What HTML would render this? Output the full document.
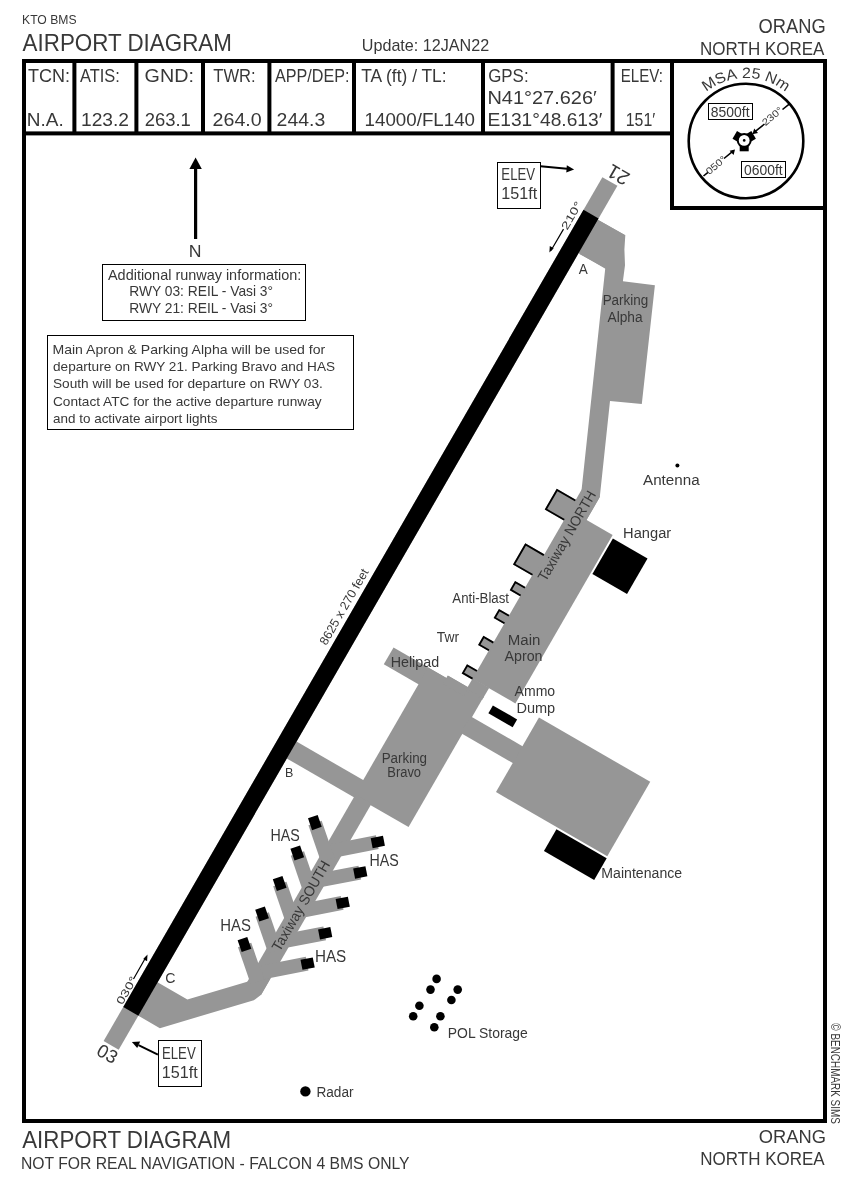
<!DOCTYPE html><html><head><meta charset="utf-8"><style>html,body{margin:0;padding:0;background:#fff;width:850px;height:1181px;overflow:hidden}svg{display:block;will-change:transform}text{font-family:"Liberation Sans",sans-serif}</style></head><body>
<svg xmlns="http://www.w3.org/2000/svg" width="850" height="1181" viewBox="0 0 850 1181">
<rect width="850" height="1181" fill="#fff"/>
<text x="22.03" y="24" font-size="13.62" fill="#383838" textLength="54.55" lengthAdjust="spacingAndGlyphs">KTO BMS</text>
<text x="22.60" y="50.6" font-size="24.64" fill="#383838" textLength="209.27" lengthAdjust="spacingAndGlyphs">AIRPORT DIAGRAM</text>
<text x="361.79" y="50.6" font-size="16.81" fill="#383838" textLength="127.40" lengthAdjust="spacingAndGlyphs">Update: 12JAN22</text>
<text x="758.58" y="33" font-size="19.71" fill="#383838" textLength="67.14" lengthAdjust="spacingAndGlyphs">ORANG</text>
<text x="700.04" y="55.4" font-size="18.84" fill="#383838" textLength="124.38" lengthAdjust="spacingAndGlyphs">NORTH KOREA</text>
<rect x="22" y="59" width="805.00" height="4.00" fill="#000"/>
<rect x="22" y="59" width="4.00" height="1064.00" fill="#000"/>
<rect x="823" y="59" width="4.00" height="1064.00" fill="#000"/>
<rect x="22" y="1119" width="805.00" height="4.00" fill="#000"/>
<rect x="22" y="131.4" width="652.00" height="4.00" fill="#000"/>
<rect x="72.4" y="59" width="4.00" height="76.00" fill="#000"/>
<rect x="134.4" y="59" width="4.00" height="76.00" fill="#000"/>
<rect x="201" y="59" width="4.00" height="76.00" fill="#000"/>
<rect x="267.4" y="59" width="4.00" height="76.00" fill="#000"/>
<rect x="352" y="59" width="4.00" height="76.00" fill="#000"/>
<rect x="481" y="59" width="4.00" height="76.00" fill="#000"/>
<rect x="610.6" y="59" width="4.00" height="76.00" fill="#000"/>
<rect x="670" y="59" width="4.00" height="151.00" fill="#000"/>
<rect x="670" y="206" width="157.00" height="4.00" fill="#000"/>
<text x="28.04" y="81.6" font-size="18.55" fill="#383838" textLength="42.04" lengthAdjust="spacingAndGlyphs">TCN:</text>
<text x="26.88" y="126" font-size="18.55" fill="#383838" textLength="36.92" lengthAdjust="spacingAndGlyphs">N.A.</text>
<text x="80.00" y="81.6" font-size="18.55" fill="#383838" textLength="39.90" lengthAdjust="spacingAndGlyphs">ATIS:</text>
<text x="80.96" y="126" font-size="18.55" fill="#383838" textLength="48.05" lengthAdjust="spacingAndGlyphs">123.2</text>
<text x="144.61" y="81.6" font-size="18.55" fill="#383838" textLength="49.26" lengthAdjust="spacingAndGlyphs">GND:</text>
<text x="144.68" y="126" font-size="18.55" fill="#383838" textLength="46.20" lengthAdjust="spacingAndGlyphs">263.1</text>
<text x="213.27" y="81.6" font-size="18.55" fill="#383838" textLength="42.30" lengthAdjust="spacingAndGlyphs">TWR:</text>
<text x="212.62" y="126" font-size="18.55" fill="#383838" textLength="49.12" lengthAdjust="spacingAndGlyphs">264.0</text>
<text x="275.00" y="81.6" font-size="18.55" fill="#383838" textLength="74.50" lengthAdjust="spacingAndGlyphs">APP/DEP:</text>
<text x="276.63" y="126" font-size="18.55" fill="#383838" textLength="48.60" lengthAdjust="spacingAndGlyphs">244.3</text>
<text x="361.25" y="81.6" font-size="18.55" fill="#383838" textLength="85.37" lengthAdjust="spacingAndGlyphs">TA (ft) / TL:</text>
<text x="364.59" y="126" font-size="18.55" fill="#383838" textLength="110.45" lengthAdjust="spacingAndGlyphs">14000/FL140</text>
<text x="488.15" y="81.6" font-size="18.55" fill="#383838" textLength="40.45" lengthAdjust="spacingAndGlyphs">GPS:</text>
<text x="487.40" y="104" font-size="18.55" fill="#383838" textLength="109.41" lengthAdjust="spacingAndGlyphs">N41°27.626′</text>
<text x="487.46" y="126" font-size="18.55" fill="#383838" textLength="114.86" lengthAdjust="spacingAndGlyphs">E131°48.613′</text>
<text x="620.79" y="81.6" font-size="18.55" fill="#383838" textLength="42.21" lengthAdjust="spacingAndGlyphs">ELEV:</text>
<text x="625.81" y="126" font-size="18.55" fill="#383838" textLength="29.44" lengthAdjust="spacingAndGlyphs">151′</text>
<circle cx="746" cy="141" r="57.3" fill="none" stroke="#000" stroke-width="2.6"/>
<text x="0" y="0" font-size="15.0" fill="#383838" text-anchor="middle" transform="translate(711.63,88.20) rotate(-33.06) scale(1.064,1)">M</text>
<text x="0" y="0" font-size="15.0" fill="#383838" text-anchor="middle" transform="translate(722.22,82.66) rotate(-22.18) scale(1.064,1)">S</text>
<text x="0" y="0" font-size="15.0" fill="#383838" text-anchor="middle" transform="translate(732.36,79.49) rotate(-12.50) scale(1.064,1)">A</text>
<text x="0" y="0" font-size="15.0" fill="#383838" text-anchor="middle" transform="translate(746.44,78.00) rotate(0.40) scale(1.064,1)">2</text>
<text x="0" y="0" font-size="15.0" fill="#383838" text-anchor="middle" transform="translate(755.28,78.69) rotate(8.47) scale(1.064,1)">5</text>
<text x="0" y="0" font-size="15.0" fill="#383838" text-anchor="middle" transform="translate(769.38,82.50) rotate(21.78) scale(1.064,1)">N</text>
<text x="0" y="0" font-size="15.0" fill="#383838" text-anchor="middle" transform="translate(780.37,88.20) rotate(33.06) scale(1.064,1)">m</text>
<rect x="708.5" y="103.5" width="44" height="16" fill="none" stroke="#000" stroke-width="1"/>
<text x="710.87" y="116.5" font-size="13.77" fill="#383838" textLength="38.70" lengthAdjust="spacingAndGlyphs">8500ft</text>
<rect x="741.5" y="161.5" width="44" height="16" fill="none" stroke="#000" stroke-width="1"/>
<text x="744.04" y="174.8" font-size="13.77" fill="#383838" textLength="38.63" lengthAdjust="spacingAndGlyphs">0600ft</text>
<path d="M782.5 109.5 L789.5 103.8 M764.5 124 L755 131.7 M724 158.5 L733 151.2 M703.5 176 L708 172.3" stroke="#000" stroke-width="1.6" fill="none"/>
<path d="M752.4 134.2 L754.2 128.6 L758 132.9 Z M735 149.5 L733.6 155 L729.6 150.8 Z" fill="#000"/>
<text x="-0.56" y="0" font-size="9.86" fill="#383838" textLength="23.22" lengthAdjust="spacingAndGlyphs" transform="translate(766,126) rotate(-40)">230°</text>
<text x="-0.45" y="0" font-size="9.86" fill="#383838" textLength="23.10" lengthAdjust="spacingAndGlyphs" transform="translate(709.5,175) rotate(-40)">050°</text>
<g transform="translate(744.2,140.4)">
<circle r="7.4" fill="#000"/>
<rect x="-4.5" y="5" width="9" height="5.9" fill="#000" transform="rotate(0)"/>
<rect x="-4.5" y="5" width="9" height="5.9" fill="#000" transform="rotate(120)"/>
<rect x="-4.5" y="5" width="9" height="5.9" fill="#000" transform="rotate(240)"/>
<circle r="5.4" fill="#fff"/><circle r="1.3" fill="#000"/></g>
<path d="M195.6 239 L195.6 166" stroke="#000" stroke-width="3.2"/>
<path d="M195.6 157.4 L201.8 169 L189.4 169 Z" fill="#000"/>
<text x="188.69" y="257.3" font-size="16.52" fill="#383838" textLength="12.77" lengthAdjust="spacingAndGlyphs">N</text>
<rect x="102.5" y="264.5" width="203" height="56" fill="none" stroke="#000" stroke-width="1"/>
<text x="108.00" y="280.2" font-size="14.78" fill="#383838" textLength="193.32" lengthAdjust="spacingAndGlyphs">Additional runway information:</text>
<text x="129.20" y="295.7" font-size="14.78" fill="#383838" textLength="143.90" lengthAdjust="spacingAndGlyphs">RWY 03: REIL - Vasi 3°</text>
<text x="129.20" y="312.5" font-size="14.78" fill="#383838" textLength="143.90" lengthAdjust="spacingAndGlyphs">RWY 21: REIL - Vasi 3°</text>
<rect x="47.5" y="335.5" width="306" height="94" fill="none" stroke="#000" stroke-width="1"/>
<text x="52.48" y="353.5" font-size="13.62" fill="#383838" textLength="272.74" lengthAdjust="spacingAndGlyphs">Main Apron &amp; Parking Alpha will be used for</text>
<text x="53.06" y="370.8" font-size="13.62" fill="#383838" textLength="282.00" lengthAdjust="spacingAndGlyphs">departure on RWY 21. Parking Bravo and HAS</text>
<text x="52.99" y="388.4" font-size="13.62" fill="#383838" textLength="269.88" lengthAdjust="spacingAndGlyphs">South will be used for departure on RWY 03.</text>
<text x="52.92" y="405.9" font-size="13.62" fill="#383838" textLength="268.66" lengthAdjust="spacingAndGlyphs">Contact ATC for the active departure runway</text>
<text x="53.06" y="423.2" font-size="13.62" fill="#383838" textLength="164.40" lengthAdjust="spacingAndGlyphs">and to activate airport lights</text>
<g transform="translate(360.2,613.2) rotate(30)">
<polygon points="7,-459.6 40.6,-459.8 40.6,-421 8,-421" fill="#969696"/>
<rect x="7" y="143" width="80.50" height="19.50" fill="#969696"/>
<rect x="130" y="-194" width="49.50" height="194.50" fill="#969696"/>
<rect x="130" y="-221" width="19.40" height="29.00" fill="#969696"/>
<rect x="46" y="13" width="62.00" height="19.50" fill="#969696"/>
<rect x="86" y="13" width="62.80" height="148.00" fill="#969696"/>
<rect x="107.5" y="10.3" width="41.50" height="3.70" fill="#969696"/>
<rect x="107" y="10.3" width="24.00" height="9.70" fill="#969696"/>
<rect x="130" y="0" width="19.00" height="12.00" fill="#969696"/>
<rect x="147" y="34" width="61.50" height="19.50" fill="#969696"/>
<rect x="207" y="1" width="128.50" height="86.00" fill="#969696"/>
<rect x="278" y="89" width="58.00" height="25.00" fill="#000"/>
<rect x="181.5" y="-191" width="40.00" height="41.00" fill="#000"/>
<rect x="161" y="13.5" width="28.00" height="9.00" fill="#000"/>
<rect x="86.5" y="159" width="18.50" height="221.00" fill="#969696"/>
<polygon points="7,421 43.5,421 87,375 105,361 105,380 101.4,388.4 34,459.5 7,459.5" fill="#969696"/>
<line x1="95" y1="229.7" x2="65.8" y2="204.3" stroke="#969696" stroke-width="14"/>
<rect x="-6.25" y="-5.1" width="12.5" height="10.2" fill="#000" transform="translate(65.8,204.3) rotate(41.0) translate(-0.5,0)"/>
<line x1="95" y1="219.5" x2="129.3" y2="189.7" stroke="#969696" stroke-width="14"/>
<rect x="-6.25" y="-5.1" width="12.5" height="10.2" fill="#000" transform="translate(129.3,189.7) rotate(-41.0) translate(0.5,0)"/>
<line x1="95" y1="264.9" x2="65.8" y2="239.5" stroke="#969696" stroke-width="14"/>
<rect x="-6.25" y="-5.1" width="12.5" height="10.2" fill="#000" transform="translate(65.8,239.5) rotate(41.0) translate(-0.5,0)"/>
<line x1="95" y1="254.6" x2="129.3" y2="224.8" stroke="#969696" stroke-width="14"/>
<rect x="-6.25" y="-5.1" width="12.5" height="10.2" fill="#000" transform="translate(129.3,224.8) rotate(-41.0) translate(0.5,0)"/>
<line x1="95" y1="300.1" x2="65.8" y2="274.7" stroke="#969696" stroke-width="14"/>
<rect x="-6.25" y="-5.1" width="12.5" height="10.2" fill="#000" transform="translate(65.8,274.7) rotate(41.0) translate(-0.5,0)"/>
<line x1="95" y1="289.7" x2="129.3" y2="259.9" stroke="#969696" stroke-width="14"/>
<rect x="-6.25" y="-5.1" width="12.5" height="10.2" fill="#000" transform="translate(129.3,259.9) rotate(-41.0) translate(0.5,0)"/>
<line x1="95" y1="335.3" x2="65.8" y2="309.9" stroke="#969696" stroke-width="14"/>
<rect x="-6.25" y="-5.1" width="12.5" height="10.2" fill="#000" transform="translate(65.8,309.9) rotate(41.0) translate(-0.5,0)"/>
<line x1="95" y1="324.8" x2="129.3" y2="295.0" stroke="#969696" stroke-width="14"/>
<rect x="-6.25" y="-5.1" width="12.5" height="10.2" fill="#000" transform="translate(129.3,295.0) rotate(-41.0) translate(0.5,0)"/>
<line x1="95" y1="370.5" x2="65.8" y2="345.1" stroke="#969696" stroke-width="14"/>
<rect x="-6.25" y="-5.1" width="12.5" height="10.2" fill="#000" transform="translate(65.8,345.1) rotate(41.0) translate(-0.5,0)"/>
<line x1="95" y1="359.9" x2="129.3" y2="330.1" stroke="#969696" stroke-width="14"/>
<rect x="-6.25" y="-5.1" width="12.5" height="10.2" fill="#000" transform="translate(129.3,330.1) rotate(-41.0) translate(0.5,0)"/>
<rect x="-8.3" y="-498.7" width="17.40" height="997.50" fill="#969696"/>
<rect x="-8.3" y="-461" width="17.40" height="920.50" fill="#000"/>
<rect x="108" y="-206" width="23.50" height="24.00" fill="#969696"/>
<path d="M130 -205.1 L108.9 -205.1 L108.9 -182.9 L130 -182.9" fill="none" stroke="#000" stroke-width="1.8"/>
<rect x="108" y="-143" width="23.50" height="24.50" fill="#969696"/>
<path d="M130 -142.1 L108.9 -142.1 L108.9 -119.4 L130 -119.4" fill="none" stroke="#000" stroke-width="1.8"/>
<rect x="118" y="-105.3" width="13.50" height="10.60" fill="#969696"/>
<path d="M130 -104.4 L118.9 -104.4 L118.9 -95.6 L130 -95.6" fill="none" stroke="#000" stroke-width="1.8"/>
<rect x="118" y="-73.1" width="13.50" height="10.60" fill="#969696"/>
<path d="M130 -72.2 L118.9 -72.2 L118.9 -63.4 L130 -63.4" fill="none" stroke="#000" stroke-width="1.8"/>
<rect x="118" y="-42.0" width="13.50" height="10.60" fill="#969696"/>
<path d="M130 -41.1 L118.9 -41.1 L118.9 -32.300000000000004 L130 -32.300000000000004" fill="none" stroke="#000" stroke-width="1.8"/>
<rect x="118" y="-9.2" width="13.50" height="10.60" fill="#969696"/>
<path d="M130 -8.3 L118.9 -8.3 L118.9 0.5000000000000004 L130 0.5000000000000004" fill="none" stroke="#000" stroke-width="1.8"/>
</g>
<polygon points="598.2,220 625.3,235.3 624.4,249.4 625,265.3 622.9,281.2 654.9,285.2 641.8,404 610,400.9 599.9,496 599.2,498.1 586.5,520 570,520 581.5,490.4 605.3,268 579.4,254.1" fill="#969696"/>
<text x="578.80" y="273.5" font-size="13.77" fill="#383838" textLength="9.03" lengthAdjust="spacingAndGlyphs">A</text>
<text x="285.00" y="777.4" font-size="13.04" fill="#383838" textLength="8.35" lengthAdjust="spacingAndGlyphs">B</text>
<text x="165.29" y="983" font-size="14.49" fill="#383838" textLength="10.24" lengthAdjust="spacingAndGlyphs">C</text>
<text x="602.63" y="305" font-size="13.91" fill="#383838" textLength="45.56" lengthAdjust="spacingAndGlyphs">Parking</text>
<text x="607.50" y="321.8" font-size="13.91" fill="#383838" textLength="35.04" lengthAdjust="spacingAndGlyphs">Alpha</text>
<circle cx="677.4" cy="465.5" r="2" fill="#000"/>
<text x="643.00" y="484.8" font-size="15.22" fill="#383838" textLength="56.61" lengthAdjust="spacingAndGlyphs">Antenna</text>
<text x="623.13" y="538.4" font-size="14.49" fill="#383838" textLength="48.06" lengthAdjust="spacingAndGlyphs">Hangar</text>
<text x="452.30" y="603.2" font-size="15.22" fill="#383838" textLength="56.73" lengthAdjust="spacingAndGlyphs">Anti-Blast</text>
<text x="436.72" y="642.4" font-size="14.49" fill="#383838" textLength="22.30" lengthAdjust="spacingAndGlyphs">Twr</text>
<text x="507.80" y="644.6" font-size="13.91" fill="#383838" textLength="32.62" lengthAdjust="spacingAndGlyphs">Main</text>
<text x="504.50" y="661.1" font-size="13.91" fill="#383838" textLength="37.98" lengthAdjust="spacingAndGlyphs">Apron</text>
<text x="390.66" y="666.8" font-size="14.49" fill="#383838" textLength="48.49" lengthAdjust="spacingAndGlyphs">Helipad</text>
<text x="514.60" y="696" font-size="13.91" fill="#383838" textLength="40.55" lengthAdjust="spacingAndGlyphs">Ammo</text>
<text x="516.44" y="713.4" font-size="13.91" fill="#383838" textLength="38.78" lengthAdjust="spacingAndGlyphs">Dump</text>
<text x="381.63" y="762.6" font-size="14.49" fill="#383838" textLength="45.45" lengthAdjust="spacingAndGlyphs">Parking</text>
<text x="387.27" y="777.4" font-size="14.49" fill="#383838" textLength="33.78" lengthAdjust="spacingAndGlyphs">Bravo</text>
<text x="601.37" y="877.9" font-size="14.49" fill="#383838" textLength="80.78" lengthAdjust="spacingAndGlyphs">Maintenance</text>
<text x="270.46" y="841.2" font-size="15.94" fill="#383838" textLength="29.30" lengthAdjust="spacingAndGlyphs">HAS</text>
<text x="369.56" y="865.9" font-size="15.94" fill="#383838" textLength="29.30" lengthAdjust="spacingAndGlyphs">HAS</text>
<text x="220.21" y="931" font-size="15.94" fill="#383838" textLength="30.68" lengthAdjust="spacingAndGlyphs">HAS</text>
<text x="314.98" y="961.7" font-size="15.94" fill="#383838" textLength="31.32" lengthAdjust="spacingAndGlyphs">HAS</text>
<circle cx="436.6" cy="978.9" r="4.3" fill="#000"/>
<circle cx="430.5" cy="989.6" r="4.3" fill="#000"/>
<circle cx="457.7" cy="989.6" r="4.3" fill="#000"/>
<circle cx="451.4" cy="1000" r="4.3" fill="#000"/>
<circle cx="419.4" cy="1005.8" r="4.3" fill="#000"/>
<circle cx="413.2" cy="1016.3" r="4.3" fill="#000"/>
<circle cx="440.4" cy="1016.3" r="4.3" fill="#000"/>
<circle cx="434.3" cy="1027.2" r="4.3" fill="#000"/>
<text x="447.79" y="1038.2" font-size="14.78" fill="#383838" textLength="80.03" lengthAdjust="spacingAndGlyphs">POL Storage</text>
<circle cx="305.4" cy="1091.4" r="5.2" fill="#000"/>
<text x="316.41" y="1097" font-size="15.36" fill="#383838" textLength="37.15" lengthAdjust="spacingAndGlyphs">Radar</text>
<text x="-0.56" y="0" font-size="12.46" fill="#383838" textLength="85.68" lengthAdjust="spacingAndGlyphs" transform="translate(326.5,645.5) rotate(-60)">8625 x 270 feet</text>
<text x="-0.28" y="0" font-size="14.49" fill="#383838" textLength="101.40" lengthAdjust="spacingAndGlyphs" transform="translate(546,582) rotate(-60)">Taxiway NORTH</text>
<text x="-0.28" y="0" font-size="14.49" fill="#383838" textLength="101.45" lengthAdjust="spacingAndGlyphs" transform="translate(280,952) rotate(-60)">Taxiway SOUTH</text>
<text x="-0.74" y="0" font-size="11.01" fill="#383838" textLength="30.60" lengthAdjust="spacingAndGlyphs" transform="translate(567.5,230) rotate(-60)">210°</text>
<text x="-0.59" y="0" font-size="11.01" fill="#383838" textLength="30.45" lengthAdjust="spacingAndGlyphs" transform="translate(122.5,1005) rotate(-60)">030°</text>
<text x="-1.01" y="0" font-size="19.71" fill="#383838" textLength="22.47" lengthAdjust="spacingAndGlyphs" transform="translate(630.5,174) rotate(210)">21</text>
<text x="-0.74" y="0" font-size="18.55" fill="#383838" textLength="20.52" lengthAdjust="spacingAndGlyphs" transform="translate(96,1054.5) rotate(30)">03</text>
<path d="M563.5 229.1 L551 250.5 M133.5 979 L146 957" stroke="#000" stroke-width="1.2"/>
<path d="M549.4 252.6 L549.8 246 L553.7 248.3 Z M147.5 954.6 L147.1 961.2 L143.2 958.9 Z" fill="#000"/>
<rect x="497.5" y="162.5" width="43" height="46" fill="none" stroke="#000" stroke-width="1"/>
<text x="501.34" y="180" font-size="15.94" fill="#383838" textLength="33.75" lengthAdjust="spacingAndGlyphs">ELEV</text>
<text x="501.19" y="199" font-size="15.94" fill="#383838" textLength="35.96" lengthAdjust="spacingAndGlyphs">151ft</text>
<path d="M540.6 166.2 L567 168.8" stroke="#000" stroke-width="2"/>
<path d="M574.1 169.4 L566.3 172.4 L566.8 165.3 Z" fill="#000"/>
<rect x="158.5" y="1040.5" width="43" height="46" fill="none" stroke="#000" stroke-width="1"/>
<text x="161.94" y="1059" font-size="15.94" fill="#383838" textLength="33.75" lengthAdjust="spacingAndGlyphs">ELEV</text>
<text x="161.79" y="1078.4" font-size="15.94" fill="#383838" textLength="35.96" lengthAdjust="spacingAndGlyphs">151ft</text>
<path d="M157.9 1054.6 L138.5 1045.2" stroke="#000" stroke-width="2"/>
<path d="M131.9 1041.9 L140.2 1041.6 L137.2 1048 Z" fill="#000"/>
<text x="22.20" y="1147.9" font-size="24.64" fill="#383838" textLength="208.87" lengthAdjust="spacingAndGlyphs">AIRPORT DIAGRAM</text>
<text x="20.94" y="1169.3" font-size="16.81" fill="#383838" textLength="388.60" lengthAdjust="spacingAndGlyphs">NOT FOR REAL NAVIGATION - FALCON 4 BMS ONLY</text>
<text x="758.78" y="1142.7" font-size="18.55" fill="#383838" textLength="67.14" lengthAdjust="spacingAndGlyphs">ORANG</text>
<text x="700.34" y="1165.3" font-size="18.26" fill="#383838" textLength="124.38" lengthAdjust="spacingAndGlyphs">NORTH KOREA</text>
<text x="-0.15" y="0" font-size="12.17" fill="#383838" textLength="100.42" lengthAdjust="spacingAndGlyphs" transform="translate(831.2,1023.5) rotate(90)">© BENCHMARK SIMS</text>
</svg></body></html>
